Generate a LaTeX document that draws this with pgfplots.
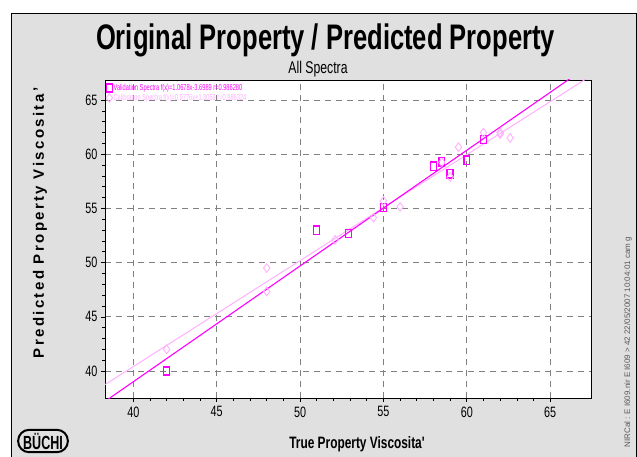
\documentclass[border=0pt]{standalone}
\usepackage{pgfplots}
\pgfplotsset{compat=1.18}
\usepackage{pgfplotstable}
\usepackage{fontspec}
\setmainfont{Liberation Sans}
\newfontfamily\cond[FakeStretch=0.72]{Liberation Sans}
\newfontfamily\condl[FakeStretch=0.66]{Liberation Sans}
\definecolor{bggray}{HTML}{E0E0E0}
\definecolor{valcol}{HTML}{FF00FF}
\definecolor{calcol}{HTML}{FFB0FF}
\definecolor{gridgray}{HTML}{808080}

\pgfdeclareplotmark{vrect}{%
  \pgfpathrectangle{\pgfpoint{-0.72\pgfplotmarksize}{-\pgfplotmarksize}}{\pgfpoint{1.44\pgfplotmarksize}{2\pgfplotmarksize}}%
  \pgfusepathqstroke}
\pgfdeclareplotmark{vdiam}{%
  \pgfpathmoveto{\pgfpoint{0pt}{\pgfplotmarksize}}%
  \pgfpathlineto{\pgfpoint{0.75\pgfplotmarksize}{0pt}}%
  \pgfpathlineto{\pgfpoint{0pt}{-\pgfplotmarksize}}%
  \pgfpathlineto{\pgfpoint{-0.75\pgfplotmarksize}{0pt}}%
  \pgfpathclose
  \pgfusepathqstroke}

\pgfplotstableread{
x y
42 40.0
51 53.0
52.9 52.7
55 55.1
58 58.9
58.5 59.3
59 58.2
60 59.45
61 61.35
}\valdata

\pgfplotstableread{
x y
42 42.0
48 49.5
48 47.35
52.1 52.1
54.4 54.15
55 55.7
56 55.15
58.5 59.25
59 57.9
59.5 60.65
61 62.0
62 61.85
62 62.0
62.6 61.5
}\caldata

\begin{document}
\begin{tikzpicture}[x=1pt,y=1pt]
\useasboundingbox (0,0) rectangle (637,456);
\fill[white] (0,0) rectangle (637,456);
\draw[fill=bggray, line width=1pt] (11,-2) rectangle (636,442);
\node[font=\cond\bfseries\fontsize{35.5}{35.5}\selectfont, anchor=base] at (325.5,406) {Original Property / Predicted Property};
\node[font=\cond\fontsize{17}{17}\selectfont, anchor=base] at (318,382) {All Spectra};

\begin{axis}[
  at={(105pt,58pt)}, anchor=south west,
  scale only axis, width=486pt, height=318pt,
  xmin=38.3, xmax=67.45, ymin=37.51, ymax=66.85,
  xtick={40,45,...,65}, ytick={40,45,...,65},
  minor tick num=4,
  tick pos=left, tick align=outside,
  major tick length=4pt, minor tick length=3pt,
  grid=major,
  major grid style={gridgray, dash pattern=on 6pt off 5pt, line width=0.8pt},
  axis line style={black, line width=0.8pt},
  tick style={black, line width=0.6pt},
  axis background/.style={fill=white},
  ticklabel style={font=\cond\fontsize{15}{15}\selectfont},
  xticklabel style={yshift=-1pt},
  /pgf/number format/assume math mode=true,
  legend style={at={(0,1)}, anchor=north west, yshift=-3pt, xshift=1pt, draw=none, fill=none,
    font=\condl\fontsize{8.6}{8.6}\selectfont, inner sep=0pt, row sep=0pt,
    nodes={inner sep=1pt}},
  legend cell align=left,
]
\addplot[calcol, line width=1pt, forget plot] coordinates {(38,38.455) (68,67.783)};
\addplot[valcol, line width=1.1pt, forget plot] coordinates {(38,36.877) (68,68.912)};
\addplot[draw=valcol, only marks, mark=vrect, mark size=4.1pt, mark options={solid, draw=valcol, line width=1.4pt}] table {\valdata};
\addlegendentry{\textcolor{valcol}{Validation Spectra f(x)=1.0678x-3.6989 r=0.986280}}
\addplot[draw=calcol, only marks, mark=vdiam, mark size=4.3pt, mark options={solid, draw=calcol, line width=0.9pt}] table {\caldata};
\addlegendentry{\textcolor{calcol}{Calibration Spectra f(x)=0.9776x+1.3059 r=0.986324}}
\end{axis}

\node[rotate=90, font=\bfseries\fontsize{15}{15}\selectfont\addfontfeature{LetterSpace=16}] at (40,233) {Predicted Property Viscosita'};
\node[font=\cond\bfseries\fontsize{16.5}{16.5}\selectfont] at (357,12) {True Property Viscosita'};
\node[draw, line width=2pt, rounded corners=11pt, inner xsep=5pt, inner ysep=3pt, font=\condl\bfseries\fontsize{19}{19}\selectfont] at (43,15) {BÜCHI};
\node[rotate=90, anchor=west, font=\fontsize{8}{8}\selectfont, text=black!65] at (628,5) {NIRCal : E I609.nir E I609 > 42 22/05/2007 10:04:01 cam g};
\end{tikzpicture}
\end{document}
